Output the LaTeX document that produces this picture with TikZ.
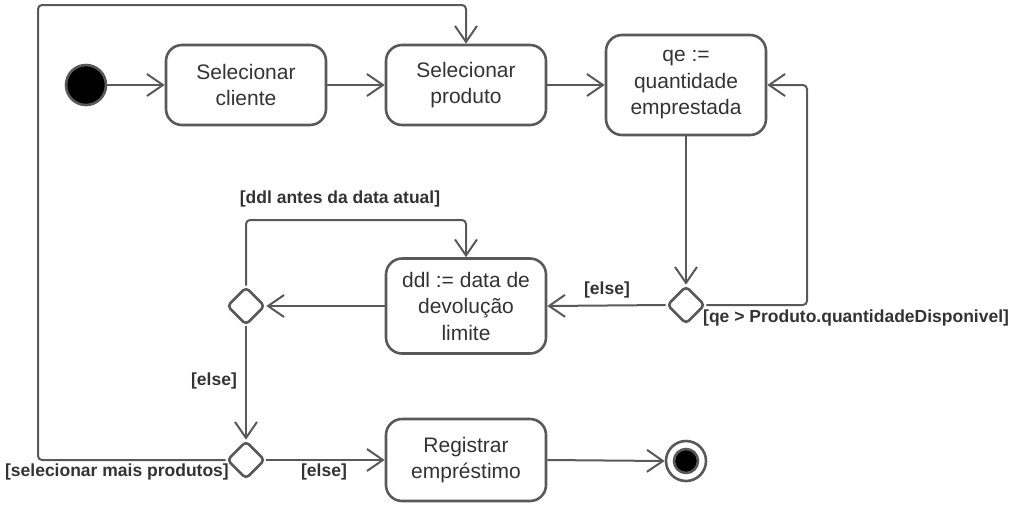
\documentclass[tikz,border=0pt]{standalone}
\usepackage{fontspec}
\setmainfont{Liberation Sans}
\usetikzlibrary{arrows.meta,shapes.geometric}
\definecolor{lc}{RGB}{89,89,89}
\definecolor{tc}{RGB}{51,51,51}
\tikzset{
  actbox/.style={draw=lc, line width=2.6pt, rounded corners=16pt, minimum width=160pt, minimum height=80pt, align=center, text=tc, inner sep=2pt, font=\fontsize{21}{26.5}\selectfont},
  decis/.style={draw=lc, line width=2.6pt, diamond, aspect=1, minimum size=38pt, inner sep=0pt, rounded corners=4pt, fill=white},
  flow/.style={draw=lc, line width=2pt, -{Straight Barb[length=16pt,width=22pt]}, rounded corners=4pt},
  guard/.style={text=tc, font=\fontsize{17.5}{20}\selectfont\bfseries, inner sep=0pt},
}
\begin{document}
\begin{tikzpicture}[x=1pt,y=-1pt]
\useasboundingbox (0,0) rectangle (1016,520);
\node[circle, draw=lc, line width=2.6pt, fill=black, minimum size=40pt, inner sep=0pt] (init) at (86,85) {};
\node[actbox] (b1) at (246,85) {Selecionar\\cliente};
\node[actbox] (b2) at (466,85) {Selecionar\\produto};
\node[actbox, minimum height=100pt] (b3) at (686,85) {qe :=\\quantidade\\emprestada};
\node[decis] (d1) at (686,305) {};
\node[actbox, minimum height=95pt] (b4) at (466,306) {ddl := data de\\devolução\\limite};
\node[decis] (d2) at (246,306) {};
\node[decis] (d3) at (246,460) {};
\node[actbox, minimum height=82pt] (b5) at (466,460) {Registrar\\empréstimo};
\node[circle, draw=lc, line width=2.6pt, minimum size=40pt, inner sep=0pt] (fin) at (686,461) {};
\node[circle, draw=lc, line width=2.6pt, fill=black, minimum size=24pt, inner sep=0pt] (fincore) at (686,461) {};
\coordinate (rl) at (807,305);
\coordinate (ul) at (246,220);
\coordinate (lp) at (38,5);
\draw[flow] (init) -- (b1);
\draw[flow] (b1) -- (b2);
\draw[flow] (b2) -- (b3);
\draw[flow] (b3.south) -- (d1.north);
\draw[flow] (d1.west) -- (b4.east);
\draw[flow] (d1.east) -- (rl) |- (b3.east);
\draw[flow] (b4.west) -- (d2.east);
\draw[flow] (d2.north) -- (ul) -| (b4.north);
\draw[flow] (d2.south) -- (d3.north);
\draw[flow] (d3.east) -- (b5.west);
\draw[flow] (d3.west) -| (lp) -| (b2.north);
\draw[flow] (b5.east) -- (fin.west);
\node[guard] (g1) at (340,199) {[ddl antes da data atual]};
\node[guard] (g2) at (214,381) {[else]};
\node[guard, anchor=east] (g3) at (229,472) {[selecionar mais produtos]};
\node[guard] (g4) at (324,472) {[else]};
\node[guard] (g5) at (607,290) {[else]};
\node[guard, anchor=west] (g6) at (703,318) {[qe > Produto.quantidadeDisponivel]};
\end{tikzpicture}
\end{document}
